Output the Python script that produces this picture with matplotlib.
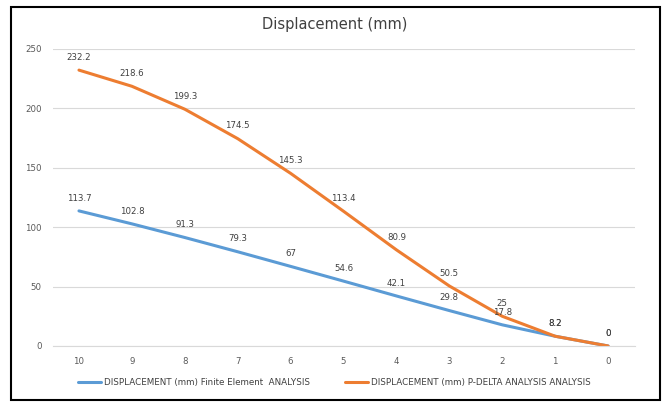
import matplotlib.pyplot as plt
from matplotlib.patches import Rectangle

storeys = ["10", "9", "8", "7", "6", "5", "4", "3", "2", "1", "0"]
fe_disp = [113.7, 102.8, 91.3, 79.3, 67, 54.6, 42.1, 29.8, 17.8, 8.2, 0]
pdelta_disp = [232.2, 218.6, 199.3, 174.5, 145.3, 113.4, 80.9, 50.5, 25, 8.2, 0]

blue = "#5B9BD5"
orange = "#ED7D31"

fig = plt.figure(figsize=(6.69, 4.08), dpi=100)
ax = fig.add_axes([0.0785, 0.152, 0.870, 0.728])

x = range(len(storeys))
ax.plot(x, fe_disp, color=blue, lw=2.2, solid_capstyle="round",
        label="DISPLACEMENT (mm) Finite Element  ANALYSIS")
ax.plot(x, pdelta_disp, color=orange, lw=2.2, solid_capstyle="round",
        label="DISPLACEMENT (mm) P-DELTA ANALYSIS ANALYSIS")

for xi, v in zip(x, fe_disp):
    ax.annotate(f"{v:g}", (xi, v), xytext=(0, 6), textcoords="offset points",
                ha="center", va="bottom", fontsize=6.2, color="#404040")
for xi, v in zip(x, pdelta_disp):
    ax.annotate(f"{v:g}", (xi, v), xytext=(0, 6), textcoords="offset points",
                ha="center", va="bottom", fontsize=6.2, color="#404040")

ax.set_xlim(-0.5, len(storeys) - 0.5)
ax.set_ylim(0, 250)
ax.set_xticks(list(x))
ax.set_xticklabels(storeys)
ax.set_yticks([0, 50, 100, 150, 200, 250])
ax.tick_params(length=0, labelsize=6.2, colors="#595959", pad=8)
ax.grid(axis="y", color="#D9D9D9", lw=0.8)
ax.set_axisbelow(True)
for s in ["top", "right", "left"]:
    ax.spines[s].set_visible(False)
ax.spines["bottom"].set_color("#D9D9D9")

fig.text(0.5, 0.94, "Displacement (mm)", ha="center", va="center",
         fontsize=10.5, color="#404040")

fig.legend(loc="center", bbox_to_anchor=(0.5, 0.062), ncol=2, frameon=False,
           fontsize=6.3, handlelength=2.6, handletextpad=0.4, columnspacing=4,
           labelcolor="#404040")

fig.patches.append(Rectangle((0.017, 0.02), 0.970, 0.963, transform=fig.transFigure,
                             fill=False, edgecolor="black", lw=1.5))

fig.savefig("out.png", dpi=100)
